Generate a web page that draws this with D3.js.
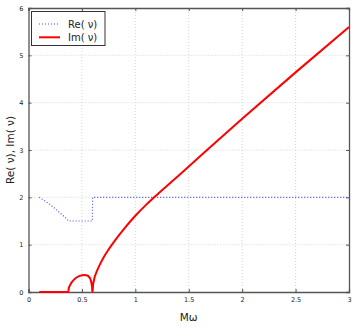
<!DOCTYPE html>
<html>
<head>
<meta charset="utf-8">
<script src="https://cdn.jsdelivr.net/npm/d3@7"></script>
<style>
  body { margin: 0; background: #fff; }
  text { font-family: "DejaVu Sans", sans-serif; }
</style>
</head>
<body>
<div id="general"></div>
<script>
const w = 354, h = 327;
const m = {l: 28.5, r: 5, t: 8, b: 35};

// Re(nu)
const reX = [0.1, 0.15, 0.2, 0.25, 0.3, 0.35, 0.373, 0.45, 0.52, 0.598, 0.6, 1, 2, 3];
const reY = [2, 1.93, 1.85, 1.76, 1.66, 1.56, 1.5, 1.5, 1.5, 1.5, 2, 2, 2, 2];

// Im(nu)
const imX = [0.1, 0.2, 0.3, 0.373, 0.376, 0.38, 0.39, 0.41, 0.44, 0.48, 0.52, 0.55, 0.57, 0.58, 0.59, 0.595, 0.598,
  0.6, 0.603, 0.61, 0.62, 0.64, 0.67, 0.7, 0.75, 0.8, 0.9, 1.0, 1.1, 1.2, 1.35, 1.5, 1.75, 2.0, 2.5, 3.0];
const imY = [0, 0, 0, 0, 0.06, 0.1, 0.15, 0.22, 0.29, 0.34, 0.36, 0.35, 0.31, 0.27, 0.18, 0.1, 0,
  0, 0.12, 0.22, 0.32, 0.44, 0.59, 0.72, 0.9, 1.06, 1.35, 1.61, 1.84, 2.05, 2.35, 2.65, 3.16, 3.66, 4.64, 5.6];

const xTicks = [0, 0.5, 1, 1.5, 2, 2.5, 3];
const yTicks = [0, 1, 2, 3, 4, 5, 6];
const xLabel = "Mω";
const yLabel = "Re( ν), Im( ν)";
const legendNames = ["Re( ν)", "Im( ν)"];

const x = d3.scaleLinear().domain([0, 3]).range([m.l, w - m.r]);
const y = d3.scaleLinear().domain([0, 6]).range([h - m.b, m.t]);

const svg = d3.select("#general").append("svg").attr("width", w).attr("height", h);

// grid
svg.append("g").selectAll("line").data(xTicks.slice(1, -1)).join("line")
  .attr("x1", d => x(d)).attr("x2", d => x(d)).attr("y1", y(0)).attr("y2", y(6))
  .attr("stroke", "#c8c8c8").attr("stroke-width", 0.8).attr("stroke-dasharray", "1,2");
svg.append("g").selectAll("line").data(yTicks.slice(1, -1)).join("line")
  .attr("y1", d => y(d)).attr("y2", d => y(d)).attr("x1", x(0)).attr("x2", x(3))
  .attr("stroke", "#c8c8c8").attr("stroke-width", 0.8).attr("stroke-dasharray", "1,2");

// axes
const fmt = d => String(d);
svg.append("g").attr("transform", `translate(0,${y(0)})`)
  .call(d3.axisBottom(x).tickValues(xTicks).tickSize(-3).tickPadding(5).tickFormat(fmt));
svg.append("g").attr("transform", `translate(${x(0)},0)`)
  .call(d3.axisLeft(y).tickValues(yTicks).tickSize(-3).tickPadding(5).tickFormat(fmt));
svg.append("g").attr("transform", `translate(0,${y(6)})`)
  .call(d3.axisTop(x).tickValues(xTicks).tickSize(-3).tickFormat(""));
svg.append("g").attr("transform", `translate(${x(3)},0)`)
  .call(d3.axisRight(y).tickValues(yTicks).tickSize(-3).tickFormat(""));
svg.selectAll(".domain").attr("stroke", "#555").attr("stroke-width", 1.3);
svg.selectAll(".tick line").attr("stroke", "#555");
svg.selectAll(".tick text").attr("font-size", 6.5).attr("fill", "#222");

// lines
const line = d3.line().x(d => x(d[0])).y(d => y(d[1]));
svg.append("path").datum(reX.map((d, i) => [d, reY[i]]))
  .attr("d", line).attr("fill", "none").attr("stroke", "#4455ee").attr("stroke-width", 1.2)
  .attr("stroke-dasharray", "1,2");
svg.append("path").datum(imX.map((d, i) => [d, imY[i]]))
  .attr("d", line.curve(d3.curveMonotoneX)).attr("fill", "none").attr("stroke", "#ff0000").attr("stroke-width", 2)
  .attr("stroke-linejoin", "round");

// labels
svg.append("text").attr("x", x(1.5)).attr("y", 321).attr("text-anchor", "middle")
  .attr("font-size", 10.5).attr("fill", "#222").text(xLabel);
svg.append("text").attr("transform", `translate(14,${y(3)}) rotate(-90)`).attr("text-anchor", "middle")
  .attr("font-size", 10.5).attr("fill", "#222").text(yLabel);

// legend
const lg = svg.append("g");
lg.append("rect").attr("x", 31.5).attr("y", 11.5).attr("width", 73.5).attr("height", 34)
  .attr("fill", "#fff").attr("stroke", "#333").attr("stroke-width", 1);
const styles = [{c: "#4455ee", w: 1.2, d: "1,2"}, {c: "#ff0000", w: 2, d: null}];
legendNames.forEach((name, i) => {
  const yy = 24 + i * 13.3;
  lg.append("line").attr("x1", 39).attr("x2", 60).attr("y1", yy).attr("y2", yy)
    .attr("stroke", styles[i].c).attr("stroke-width", styles[i].w).attr("stroke-dasharray", styles[i].d);
  lg.append("text").attr("x", 68).attr("y", yy + 3.5).attr("font-size", 10).attr("fill", "#222").text(name);
});
</script>
</body>
</html>
